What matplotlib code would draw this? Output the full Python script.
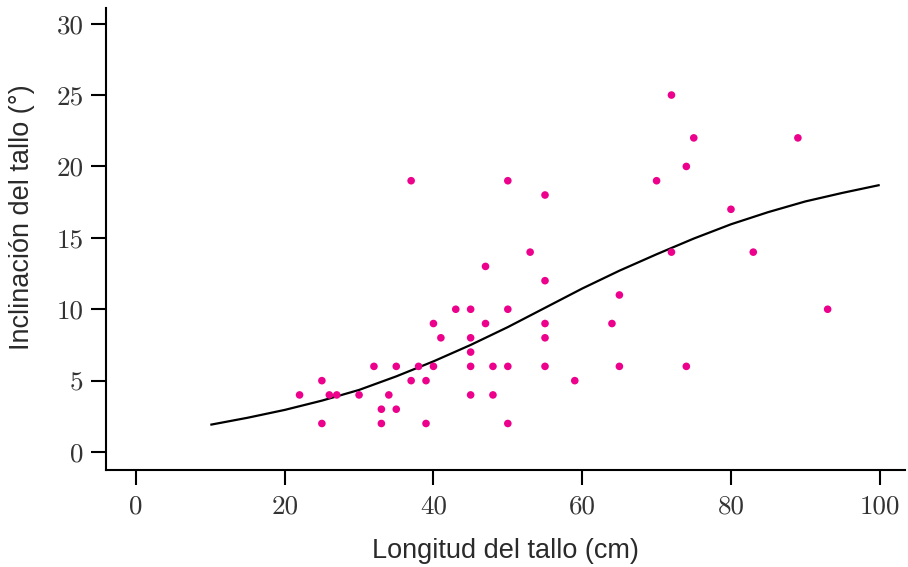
import matplotlib
matplotlib.use("Agg")
import matplotlib.pyplot as plt

# Scatter data: stem length (cm) vs stem inclination (degrees)
longitud = [22, 25, 25, 26, 27, 30, 32, 33, 33, 34, 35, 35, 37, 37, 38, 39, 39,
            40, 40, 41, 43, 45, 45, 45, 45, 45, 47, 47, 48, 48, 50, 50, 50, 50,
            53, 55, 55, 55, 55, 55, 59, 64, 65, 65, 70, 72, 72, 74, 74, 75, 80,
            83, 89, 93]
inclinacion = [4, 5, 2, 4, 4, 4, 6, 3, 2, 4, 6, 3, 19, 5, 6, 5, 2,
               9, 6, 8, 10, 10, 8, 7, 6, 4, 13, 9, 6, 4, 19, 10, 6, 2,
               14, 18, 12, 9, 8, 6, 5, 9, 11, 6, 19, 25, 14, 20, 6, 22, 17,
               14, 22, 10]

# Fitted curve
curva_x = [10, 15, 20, 25, 30, 35, 40, 45, 50, 55, 60, 65, 70, 75, 80, 85, 90, 95, 100]
curva_y = [1.91, 2.4, 2.95, 3.6, 4.35, 5.3, 6.35, 7.5, 8.75, 10.1, 11.45, 12.7,
           13.85, 14.95, 15.95, 16.8, 17.55, 18.15, 18.7]

x_ticks = [0, 20, 40, 60, 80, 100]
y_ticks = [0, 5, 10, 15, 20, 25, 30]

plt.rcParams['axes.formatter.use_mathtext'] = True

fig = plt.figure(figsize=(9.08, 5.67), dpi=100)
ax = fig.add_axes([0.1167, 0.171, 0.880, 0.815])

ax.plot(curva_x, curva_y, color='black', lw=1.6, zorder=2,
        solid_joinstyle='round', solid_capstyle='butt')
ax.scatter(longitud, inclinacion, s=30, color='#ec008c', edgecolors='none', zorder=3)

ax.set_xlim(-4.03, 103.4)
ax.set_ylim(-1.26, 31.1)
ax.set_xticks(x_ticks)
ax.set_yticks(y_ticks)
ax.set_xticklabels([str(t) for t in x_ticks], family='cmr10', fontsize=19.5, color='#333333')
ax.set_yticklabels([str(t) for t in y_ticks], family='cmr10', fontsize=19.5, color='#333333')

for s in ['top', 'right']:
    ax.spines[s].set_visible(False)
for s in ['left', 'bottom']:
    ax.spines[s].set_linewidth(1.5)

ax.tick_params(axis='both', direction='out', length=11, width=1.5, color='black')
ax.tick_params(axis='y', pad=5)
ax.tick_params(axis='x', pad=7)

ax.set_xlabel('Longitud del tallo (cm)', family='Liberation Sans',
              fontsize=19.5, color='#2a2a2a', labelpad=14)
ax.set_ylabel('Inclinación del tallo (°)', family='Liberation Sans',
              fontsize=19.5, color='#2a2a2a')
ax.yaxis.set_label_coords(-0.089, 0.548)

fig.savefig('out.png', dpi=100)
